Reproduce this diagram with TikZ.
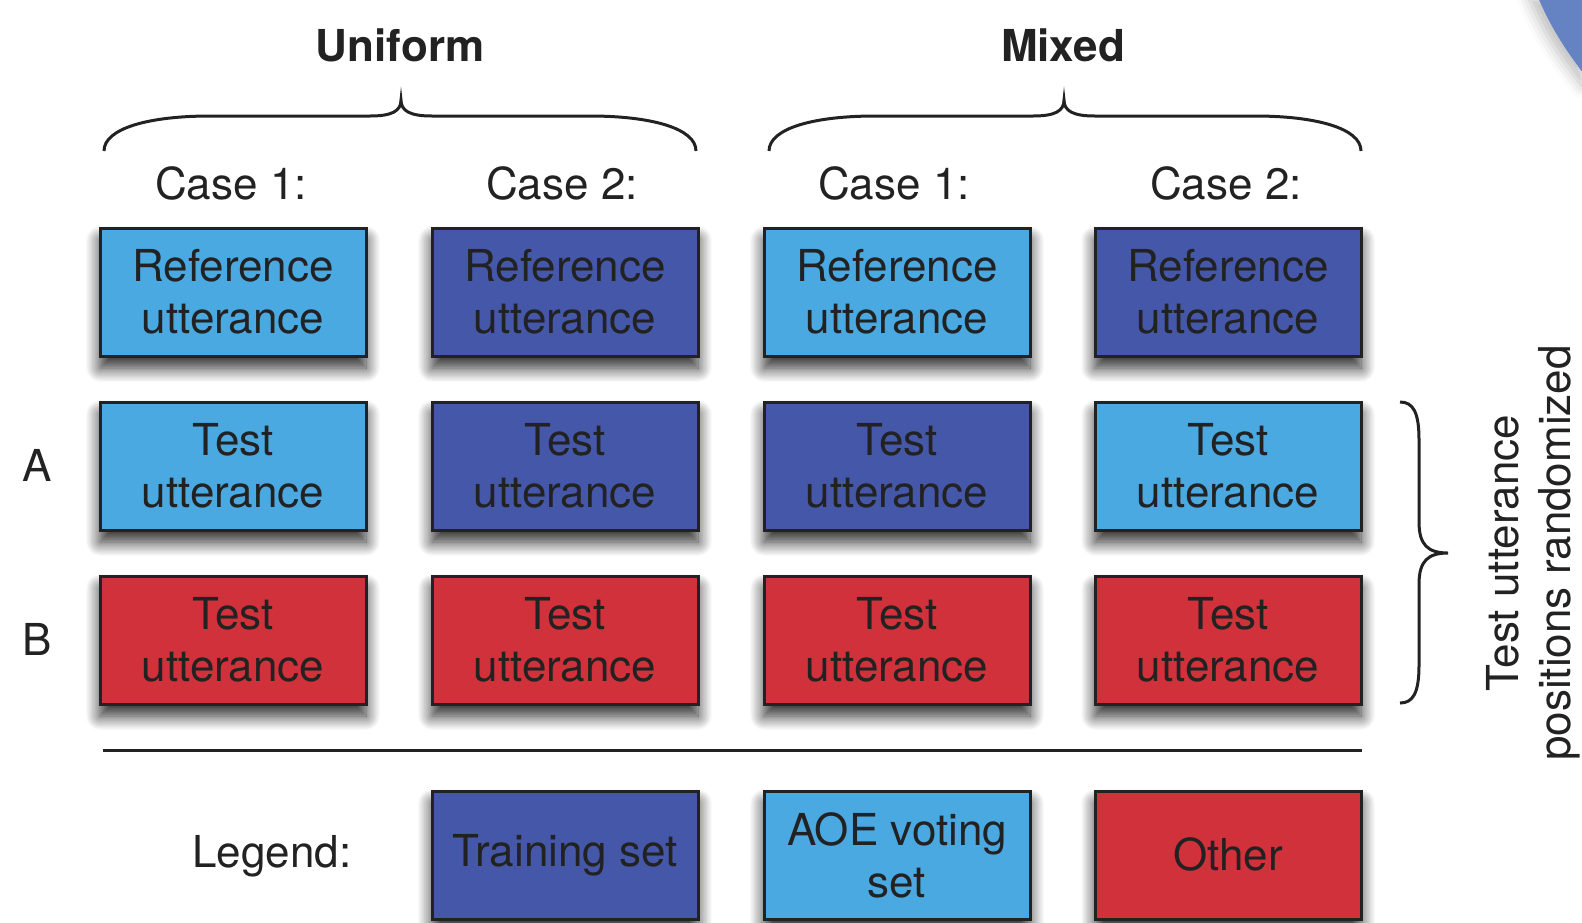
\documentclass[tikz,border=0pt]{standalone}
\usepackage{fontspec}
\setmainfont{TeX Gyre Heros}
\usetikzlibrary{shadows.blur}
\definecolor{lblue}{HTML}{4AA9E1}
\definecolor{dblue}{HTML}{4557A8}
\definecolor{tred}{HTML}{D1313A}
\definecolor{txt}{HTML}{222222}
\definecolor{corner}{HTML}{6582C3}
\begin{document}
\begin{tikzpicture}[x=0.5pt,y=-0.5pt,
 box/.style={draw=txt, line width=1.5pt, minimum width=133pt, minimum height=64pt, inner sep=0pt, align=center, font=\fontsize{22}{26}\selectfont, text=txt, blur shadow={shadow xshift=0pt, shadow yshift=-6pt, shadow blur radius=7pt, shadow blur steps=12, shadow opacity=85}},
 lb/.style={box, fill=lblue}, db/.style={box, fill=dblue}, rb/.style={box, fill=tred},
 lab/.style={font=\fontsize{22}{26}\selectfont, text=txt, align=center, inner sep=0pt},
 brace/.style={draw=txt, line width=1.5pt}]
\useasboundingbox (0,0) rectangle (1582,922);
% corner shape
\fill[corner, blur shadow={shadow xshift=-4pt, shadow yshift=-2pt, shadow blur radius=6pt, shadow opacity=25}] (1537,-5) .. controls (1550,26) and (1565,50) .. (1590,82) -- (1590,-5) -- cycle;
% headers
\node[lab, font=\fontsize{22}{26}\selectfont\bfseries] (uni) at (400,45) {Uniform};
\node[lab, font=\fontsize{22}{26}\selectfont\bfseries] (mix) at (1063,45) {Mixed};
\node[lab] (c1) at (231,183) {Case 1:};
\node[lab] (c2) at (562,183) {Case 2:};
\node[lab] (c3) at (894,183) {Case 1:};
\node[lab] (c4) at (1226,183) {Case 2:};
% braces
\draw[brace] (104,151) .. controls (104,128) and (150,116) .. (210,116) -- (370,116) .. controls (392,116) and (401,111) .. (401,100) .. controls (401,111) and (410,116) .. (432,116) -- (590,116) .. controls (650,116) and (696,128) .. (696,151);
\draw[brace] (769,151) .. controls (769,128) and (815,116) .. (875,116) -- (1033,116) .. controls (1055,116) and (1064,111) .. (1064,100) .. controls (1064,111) and (1073,116) .. (1095,116) -- (1255,116) .. controls (1315,116) and (1361,128) .. (1361,151);
\draw[brace] (1400,402) .. controls (1413,402) and (1419,412) .. (1419,440) -- (1419,522) .. controls (1419,545) and (1428,553) .. (1448,553) .. controls (1428,553) and (1419,561) .. (1419,584) -- (1419,665) .. controls (1419,693) and (1413,703) .. (1400,703);
% row labels
\node[lab] (A) at (37,465) {A};
\node[lab] (B) at (37,639) {B};
% reference row
\node[lb] (r1) at (233,292) {Reference\\utterance};
\node[db] (r2) at (565,292) {Reference\\utterance};
\node[lb] (r3) at (897,292) {Reference\\utterance};
\node[db] (r4) at (1228,292) {Reference\\utterance};
% A row
\node[lb] (a1) at (233,466) {Test\\utterance};
\node[db] (a2) at (565,466) {Test\\utterance};
\node[db] (a3) at (897,466) {Test\\utterance};
\node[lb] (a4) at (1228,466) {Test\\utterance};
% B row
\node[rb] (b1) at (233,640) {Test\\utterance};
\node[rb] (b2) at (565,640) {Test\\utterance};
\node[rb] (b3) at (897,640) {Test\\utterance};
\node[rb] (b4) at (1228,640) {Test\\utterance};
% side label
\node[lab, rotate=90] (side) at (1533,553) {Test utterance\\positions randomized};
% separator
\coordinate (sl) at (103,750);
\coordinate (sr) at (1362,750);
\draw[txt, line width=1.5pt] (sl) -- (sr);
% legend
\node[lab] (leg) at (272,856) {Legend:};
\node[db] (l1) at (565,855) {\raisebox{-2pt}{Training set}};
\node[lb] (l2) at (897,855) {AOE voting\\set};
\node[rb] (l3) at (1228,855) {\raisebox{1pt}{Other}};
\end{tikzpicture}
\end{document}
